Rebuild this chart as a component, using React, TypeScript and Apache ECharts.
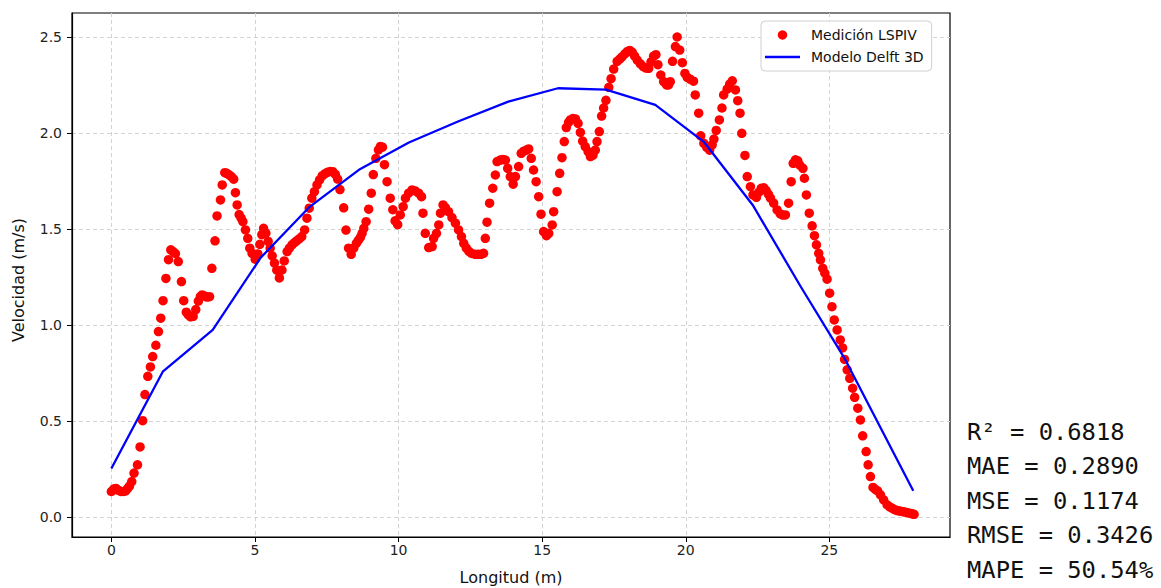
import React, { useEffect, useRef } from 'react';
import * as echarts from 'echarts';

const longitud = [
  0.00, 0.08, 0.16, 0.25, 0.33, 0.42, 0.50, 0.57, 0.63, 0.71, 0.79, 0.91, 1.00, 1.09, 1.17, 1.27, 1.36, 1.44, 1.55, 1.64,
  1.72, 1.80, 1.90, 1.99, 2.07, 2.15, 2.23, 2.33, 2.44, 2.52, 2.61, 2.68, 2.76, 2.85, 2.94, 3.03, 3.10, 3.16, 3.25, 3.33,
  3.42, 3.50, 3.61, 3.68, 3.80, 3.86, 3.95, 4.02, 4.10, 4.18, 4.26, 4.32, 4.38, 4.45, 4.52, 4.58, 4.67, 4.75, 4.82, 4.90,
  5.01, 5.10, 5.17, 5.24, 5.30, 5.38, 5.46, 5.53, 5.60, 5.68, 5.76, 5.85, 5.94, 6.02, 6.12, 6.20, 6.29, 6.37, 6.45, 6.54,
  6.63, 6.73, 6.81, 6.89, 6.98, 7.07, 7.16, 7.25, 7.34, 7.43, 7.52, 7.62, 7.71, 7.80, 7.88, 7.96, 8.09, 8.17, 8.26, 8.35,
  8.44, 8.53, 8.60, 8.67, 8.73, 8.79, 8.87, 8.96, 9.05, 9.12, 9.21, 9.30, 9.37, 9.44, 9.51, 9.60, 9.71, 9.80, 9.88, 9.97,
  10.06, 10.16, 10.24, 10.35, 10.47, 10.58, 10.70, 10.80, 10.85, 10.93, 11.05, 11.17, 11.22, 11.32, 11.40, 11.46, 11.55, 11.63, 11.74, 11.86,
  11.98, 12.09, 12.19, 12.27, 12.36, 12.45, 12.55, 12.67, 12.77, 12.87, 12.96, 13.02, 13.08, 13.17, 13.28, 13.37, 13.43, 13.54, 13.63, 13.72,
  13.80, 13.89, 13.99, 14.07, 14.18, 14.27, 14.36, 14.45, 14.53, 14.62, 14.70, 14.79, 14.88, 14.96, 15.05, 15.15, 15.23, 15.35, 15.40, 15.52,
  15.61, 15.69, 15.77, 15.84, 15.92, 15.98, 16.07, 16.16, 16.25, 16.33, 16.41, 16.50, 16.60, 16.68, 16.77, 16.85, 16.91, 16.99, 17.07, 17.14,
  17.22, 17.32, 17.40, 17.49, 17.61, 17.70, 17.78, 17.88, 17.96, 18.05, 18.14, 18.22, 18.31, 18.42, 18.52, 18.62, 18.71, 18.79, 18.88, 18.96,
  19.03, 19.13, 19.23, 19.33, 19.40, 19.46, 19.54, 19.64, 19.70, 19.79, 19.88, 19.97, 20.05, 20.15, 20.27, 20.33, 20.45, 20.52, 20.63, 20.73,
  20.83, 20.92, 20.98, 21.06, 21.17, 21.26, 21.32, 21.44, 21.53, 21.62, 21.73, 21.81, 21.89, 21.95, 22.06, 22.14, 22.25, 22.34, 22.46, 22.54,
  22.63, 22.72, 22.80, 22.88, 22.95, 23.06, 23.18, 23.29, 23.38, 23.47, 23.58, 23.67, 23.74, 23.82, 23.90, 23.97, 24.08, 24.13, 24.20, 24.30,
  24.40, 24.48, 24.55, 24.63, 24.69, 24.77, 24.84, 24.92, 25.01, 25.09, 25.17, 25.27, 25.38, 25.46, 25.53, 25.62, 25.71, 25.81, 25.88, 25.99,
  26.08, 26.16, 26.28, 26.35, 26.43, 26.52, 26.60, 26.68, 26.78, 26.89, 27.01, 27.10, 27.18, 27.27, 27.36, 27.45, 27.53, 27.62, 27.71, 27.80,
  27.88, 27.95,
];

const velocidad = [
  0.132, 0.145, 0.148, 0.138, 0.132, 0.132, 0.135, 0.148, 0.160, 0.184, 0.228, 0.271, 0.364, 0.501, 0.637, 0.732, 0.781, 0.835, 0.894, 0.965,
  1.035, 1.126, 1.242, 1.340, 1.391, 1.382, 1.372, 1.330, 1.226, 1.126, 1.066, 1.052, 1.042, 1.045, 1.080, 1.124, 1.148, 1.156, 1.150, 1.145,
  1.147, 1.295, 1.438, 1.568, 1.651, 1.729, 1.793, 1.790, 1.782, 1.773, 1.759, 1.689, 1.625, 1.575, 1.556, 1.538, 1.495, 1.451, 1.400, 1.373,
  1.342, 1.370, 1.420, 1.470, 1.503, 1.478, 1.435, 1.400, 1.360, 1.322, 1.285, 1.245, 1.286, 1.333, 1.382, 1.400, 1.417, 1.428, 1.438, 1.448,
  1.460, 1.495, 1.556, 1.608, 1.660, 1.694, 1.729, 1.756, 1.776, 1.787, 1.795, 1.799, 1.798, 1.784, 1.760, 1.705, 1.610, 1.494, 1.400, 1.368,
  1.400, 1.425, 1.440, 1.456, 1.477, 1.503, 1.538, 1.603, 1.686, 1.783, 1.868, 1.912, 1.930, 1.926, 1.835, 1.746, 1.660, 1.600, 1.542, 1.522,
  1.573, 1.616, 1.660, 1.686, 1.703, 1.698, 1.686, 1.668, 1.582, 1.477, 1.403, 1.408, 1.451, 1.477, 1.521, 1.582, 1.625, 1.611, 1.590, 1.559,
  1.530, 1.495, 1.460, 1.425, 1.400, 1.383, 1.372, 1.368, 1.368, 1.368, 1.373, 1.451, 1.535, 1.634, 1.712, 1.781, 1.851, 1.859, 1.862, 1.859,
  1.816, 1.773, 1.733, 1.773, 1.825, 1.894, 1.905, 1.911, 1.917, 1.868, 1.807, 1.746, 1.668, 1.577, 1.486, 1.465, 1.477, 1.521, 1.590, 1.694,
  1.790, 1.871, 1.955, 2.028, 2.055, 2.068, 2.075, 2.073, 2.050, 2.003, 1.958, 1.929, 1.903, 1.877, 1.885, 1.911, 1.955, 2.007, 2.088, 2.130,
  2.170, 2.238, 2.283, 2.333, 2.373, 2.385, 2.397, 2.412, 2.424, 2.430, 2.420, 2.400, 2.380, 2.360, 2.345, 2.338, 2.337, 2.370, 2.400, 2.408,
  2.356, 2.302, 2.268, 2.250, 2.250, 2.267, 2.373, 2.450, 2.500, 2.432, 2.366, 2.310, 2.290, 2.280, 2.270, 2.198, 2.103, 1.985, 1.946, 1.925,
  1.910, 1.938, 1.968, 2.013, 2.068, 2.130, 2.198, 2.228, 2.255, 2.272, 2.224, 2.168, 2.103, 1.998, 1.883, 1.773, 1.720, 1.677, 1.665, 1.690,
  1.712, 1.714, 1.700, 1.680, 1.660, 1.634, 1.599, 1.578, 1.572, 1.573, 1.634, 1.746, 1.842, 1.860, 1.855, 1.833, 1.816, 1.764, 1.677, 1.582,
  1.516, 1.465, 1.417, 1.373, 1.339, 1.295, 1.270, 1.238, 1.165, 1.095, 1.026, 0.974, 0.922, 0.880, 0.820, 0.766, 0.722, 0.670, 0.623, 0.566,
  0.505, 0.422, 0.340, 0.271, 0.210, 0.153, 0.143, 0.135, 0.115, 0.089, 0.063, 0.052, 0.045, 0.038, 0.033, 0.030, 0.028, 0.025, 0.022, 0.019,
  0.016, 0.013,
];

const modeloX = [0, 1.79, 3.53, 5.2, 6.88, 8.62, 10.36, 12.07, 13.82, 15.55, 17.22, 18.94, 20.64, 22.33, 24.0, 25.55, 27.92];
const modeloY = [0.252, 0.756, 0.974, 1.35, 1.612, 1.808, 1.95, 2.06, 2.163, 2.233, 2.226, 2.146, 1.952, 1.625, 1.2, 0.82, 0.136];

const xTicks = [0, 5, 10, 15, 20, 25];
const yTicks = [0, 0.5, 1, 1.5, 2, 2.5];

const metricas = ['R² = 0.6818', 'MAE = 0.2890', 'MSE = 0.1174', 'RMSE = 0.3426', 'MAPE = 50.54%'];

const FONT = 'DejaVu Sans';

export default function App() {
  const ref = useRef<HTMLDivElement>(null);

  useEffect(() => {
    if (!ref.current) return;
    const chart = echarts.init(ref.current, null, { renderer: 'svg' });

    const gridLine = { show: true, lineStyle: { color: '#d3d3d3', type: [4, 3], width: 1 } };

    chart.setOption({
      animation: false,
      backgroundColor: '#ffffff',
      grid: { left: 72, right: 211, top: 13, bottom: 51, show: true, borderColor: '#000', borderWidth: 1.2, backgroundColor: 'transparent' },
      xAxis: {
        type: 'value',
        min: -1.37,
        max: 29.2,
        axisLine: { show: true, onZero: false, lineStyle: { color: '#000', width: 1.2 } },
        axisTick: { show: true, inside: false, length: 5, customValues: xTicks, lineStyle: { color: '#000', width: 1 } },
        axisLabel: { customValues: xTicks, margin: 6, fontSize: 14, fontFamily: FONT, color: '#222', formatter: (v: number) => String(v) },
        splitLine: gridLine,
      },
      yAxis: {
        type: 'value',
        min: -0.105,
        max: 2.625,
        axisLine: { show: true, onZero: false, lineStyle: { color: '#000', width: 1.2 } },
        axisTick: { show: true, inside: false, length: 5, customValues: yTicks, lineStyle: { color: '#000', width: 1 } },
        axisLabel: { customValues: yTicks, margin: 10, fontSize: 14, fontFamily: FONT, color: '#222', formatter: (v: number) => v.toFixed(1) },
        splitLine: gridLine,
      },
      legend: {
        left: 761,
        top: 21,
        orient: 'vertical',
        padding: [7, 8, 7, 4],
        itemGap: 8,
        itemWidth: 35,
        itemHeight: 9.5,
        backgroundColor: 'rgba(255,255,255,0.85)',
        borderColor: '#d0d0d0',
        borderWidth: 1,
        borderRadius: 4,
        textStyle: { fontSize: 14, fontFamily: FONT, color: '#111', lineHeight: 14, padding: [0, 0, 0, 6] },
        data: [
          { name: 'Medición LSPIV', icon: 'circle' },
          { name: 'Modelo Delft 3D', icon: 'path://M0,0H35V2.3H0Z' },
        ],
      },
      graphic: [
        {
          type: 'text', x: 18, y: 280, rotation: Math.PI / 2,
          style: { text: 'Velocidad (m/s)', fontSize: 16, fontFamily: FONT, fill: '#111', align: 'center', verticalAlign: 'middle' },
        },
        {
          type: 'text', x: 511, y: 577,
          style: { text: 'Longitud (m)', fontSize: 16, fontFamily: FONT, fill: '#111', align: 'center', verticalAlign: 'middle' },
        },
        ...metricas.map((t, i) => ({
          type: 'text', x: 967, y: 432 + i * 34.4,
          style: { text: t, fontSize: 23.8, fontFamily: 'DejaVu Sans Mono', fill: '#111', align: 'left', verticalAlign: 'middle' },
        })),
      ],
      series: [
        {
          name: 'Medición LSPIV',
          type: 'scatter',
          data: longitud.map((x, i) => [x, velocidad[i]]),
          symbol: 'circle',
          symbolSize: 9.5,
          itemStyle: { color: '#ff0000', opacity: 1 },
          z: 2,
        },
        {
          name: 'Modelo Delft 3D',
          type: 'line',
          data: modeloX.map((x, i) => [x, modeloY[i]]),
          symbol: 'none',
          showSymbol: false,
          lineStyle: { color: '#0000ff', width: 2.3 },
          itemStyle: { color: '#0000ff' },
          z: 3,
        },
      ],
    });

    return () => chart.dispose();
  }, []);

  return <div ref={ref} style={{ position: 'fixed', left: 0, top: 0, width: 1161, height: 588, background: '#fff' }} />;
}
